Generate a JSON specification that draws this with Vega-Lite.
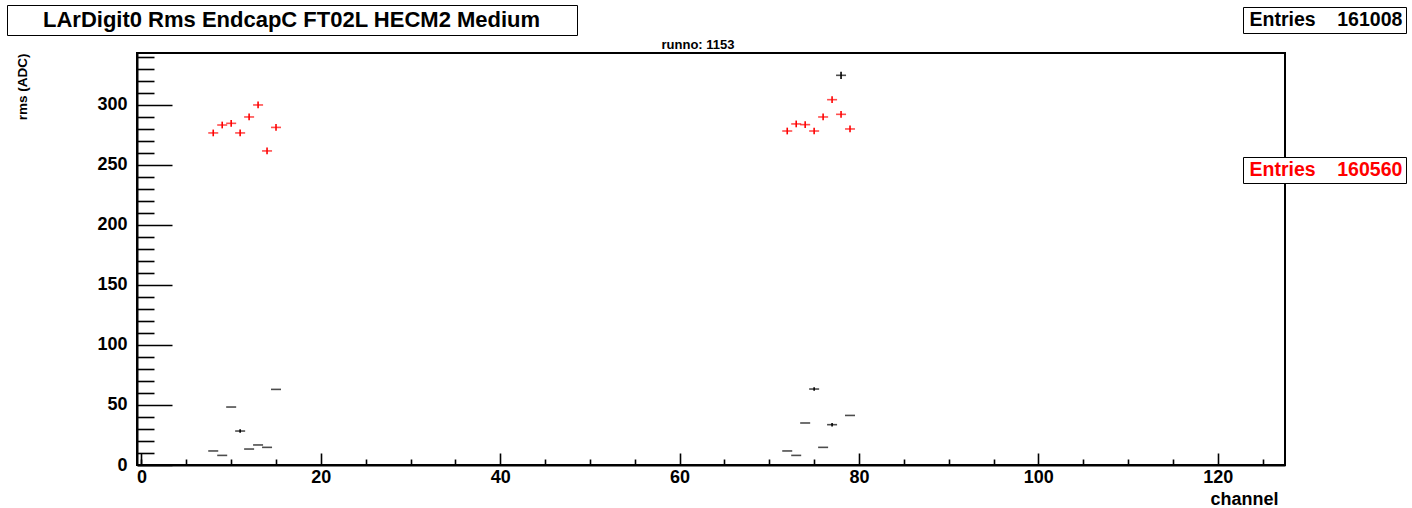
{
  "$schema": "https://vega.github.io/schema/vega-lite/v6.json",
  "width": 1148,
  "height": 412,
  "autosize": {"type": "none"},
  "padding": {"left": 137, "top": 53, "right": 127, "bottom": 43},
  "background": "white",
  "title": {"text": "runno: 1153", "fontSize": 13, "fontWeight": "bold", "font": "Liberation Sans", "anchor": "middle", "dx": -13, "dy": 50, "offset": 3, "color": "black"},
  "datasets": {
    "h1": [
      {"ch": 8, "rms": 11.7, "err": 0, "entries": 161008},
      {"ch": 9, "rms": 8.0, "err": 0, "entries": 161008},
      {"ch": 10, "rms": 48.3, "err": 0, "entries": 161008},
      {"ch": 11, "rms": 28.3, "err": 1.5, "entries": 161008},
      {"ch": 12, "rms": 13.3, "err": 0, "entries": 161008},
      {"ch": 13, "rms": 16.7, "err": 0, "entries": 161008},
      {"ch": 14, "rms": 14.7, "err": 0, "entries": 161008},
      {"ch": 15, "rms": 63.0, "err": 0, "entries": 161008},
      {"ch": 72, "rms": 11.7, "err": 0, "entries": 161008},
      {"ch": 73, "rms": 8.0, "err": 0, "entries": 161008},
      {"ch": 74, "rms": 35.0, "err": 0, "entries": 161008},
      {"ch": 75, "rms": 63.3, "err": 1.5, "entries": 161008},
      {"ch": 76, "rms": 14.7, "err": 0, "entries": 161008},
      {"ch": 77, "rms": 33.6, "err": 1.5, "entries": 161008},
      {"ch": 78, "rms": 324.7, "err": 3.0, "entries": 161008},
      {"ch": 79, "rms": 41.3, "err": 0, "entries": 161008}
    ],
    "h2": [
      {"ch": 8, "rms": 276.7, "err": 2.8, "entries": 160560},
      {"ch": 9, "rms": 283.3, "err": 2.8, "entries": 160560},
      {"ch": 10, "rms": 284.7, "err": 2.8, "entries": 160560},
      {"ch": 11, "rms": 276.7, "err": 2.8, "entries": 160560},
      {"ch": 12, "rms": 290.0, "err": 2.8, "entries": 160560},
      {"ch": 13, "rms": 300.0, "err": 2.8, "entries": 160560},
      {"ch": 14, "rms": 261.7, "err": 2.8, "entries": 160560},
      {"ch": 15, "rms": 281.3, "err": 2.8, "entries": 160560},
      {"ch": 72, "rms": 278.3, "err": 2.8, "entries": 160560},
      {"ch": 73, "rms": 284.2, "err": 2.8, "entries": 160560},
      {"ch": 74, "rms": 283.6, "err": 2.8, "entries": 160560},
      {"ch": 75, "rms": 278.3, "err": 2.8, "entries": 160560},
      {"ch": 76, "rms": 290.0, "err": 2.8, "entries": 160560},
      {"ch": 77, "rms": 304.4, "err": 2.8, "entries": 160560},
      {"ch": 78, "rms": 292.2, "err": 2.8, "entries": 160560},
      {"ch": 79, "rms": 280.0, "err": 2.8, "entries": 160560}
    ]
  },
  "layer": [
    {
      "data": {"name": "h1"},
      "encoding": {
        "x": {
          "field": "ch", "type": "quantitative",
          "scale": {"domain": [-0.5, 127.5], "nice": false, "zero": false},
          "axis": {
            "orient": "bottom",
            "title": "channel",
            "values": [0, 20, 40, 60, 80, 100, 120],
            "labelFontSize": 18, "labelPadding": 15, "labelFlush": false, "labelOverlap": false,
            "tickSize": -12,
            "titleAnchor": "end", "titleAlign": "right", "titleX": 1141, "titleY": 39, "titleBaseline": "alphabetic",
            "titleFontSize": 18
          }
        },
        "y": {
          "field": "rms", "type": "quantitative",
          "scale": {"domain": [0, 343.3], "nice": false, "zero": false},
          "axis": {
            "orient": "left",
            "title": "rms (ADC)",
            "values": [0, 50, 100, 150, 200, 250, 300],
            "labelFontSize": 18, "labelPadding": 45, "labelOverlap": false,
            "tickSize": -35,
            "titleAngle": -90, "titleAlign": "right", "titleX": -115, "titleY": 0, "titleBaseline": "middle",
            "titleFontSize": 13.5
          }
        },
        "color": {
          "field": "entries", "type": "nominal",
          "scale": {"domain": [161008], "range": ["black"]},
          "legend": {
            "orient": "none", "legendX": 1106, "legendY": -46, "title": null,
            "strokeColor": "black", "fillColor": "white", "padding": 3,
            "labelFontSize": 19.5, "labelFontWeight": "bold", "labelColor": "black", "labelLimit": 0,
            "symbolOpacity": 0, "symbolSize": 0, "symbolStrokeWidth": 0, "labelOffset": -16,
            "labelExpr": "'Entries\u00a0\u00a0\u00a0\u00a0' + datum.label"
          }
        }
      },
      "layer": [
        {
          "mark": {"type": "tick", "orient": "horizontal", "size": 10, "thickness": 1.6},
          "encoding": {
            "strokeDash": {
              "datum": "LArDigit0 Rms EndcapC FT02L HECM2 Medium", "type": "nominal",
              "scale": {"range": [[1, 0]]},
              "legend": {
                "orient": "none", "legendX": -130, "legendY": -48, "title": null,
                "strokeColor": "black", "fillColor": "white", "padding": 4,
                "labelFontSize": 22, "labelFontWeight": "bold", "labelColor": "black", "labelLimit": 0,
                "symbolOpacity": 0, "symbolSize": 0, "symbolStrokeWidth": 0, "labelOffset": 10,
                "labelExpr": "datum.label + '\u2800\u2800'"
              }
            }
          }
        },
        {
          "mark": {"type": "errorbar", "ticks": false, "rule": {"strokeWidth": 1.6}},
          "encoding": {"yError": {"field": "err"}}
        }
      ]
    },
    {
      "data": {"name": "h2"},
      "encoding": {
        "x": {
          "field": "ch", "type": "quantitative",
          "scale": {"domain": [-0.5, 127.5], "nice": false, "zero": false},
          "axis": {
            "orient": "bottom", "title": null, "labels": false, "domain": false,
            "values": [0,5,10,15,25,30,35,45,50,55,65,70,75,85,90,95,105,110,115,125],
            "tickSize": -6
          }
        },
        "y": {
          "field": "rms", "type": "quantitative",
          "scale": {"domain": [0, 343.3], "nice": false, "zero": false},
          "axis": {
            "orient": "left", "title": null, "labels": false, "domain": false,
            "values": [10,20,30,40,60,70,80,90,110,120,130,140,160,170,180,190,210,220,230,240,260,270,280,290,310,320,330,340],
            "tickSize": -17
          }
        },
        "color": {
          "field": "entries", "type": "nominal",
          "scale": {"domain": [160560], "range": ["red"]},
          "legend": {
            "orient": "none", "legendX": 1106, "legendY": 104, "title": null,
            "strokeColor": "black", "fillColor": "white", "padding": 3,
            "labelFontSize": 19.5, "labelFontWeight": "bold", "labelColor": "red", "labelLimit": 0,
            "symbolOpacity": 0, "symbolSize": 0, "symbolStrokeWidth": 0, "labelOffset": -16,
            "labelExpr": "'Entries\u00a0\u00a0\u00a0\u00a0' + datum.label"
          }
        }
      },
      "layer": [
        {"mark": {"type": "tick", "orient": "horizontal", "size": 10, "thickness": 1.6}},
        {
          "mark": {"type": "errorbar", "ticks": false, "rule": {"strokeWidth": 1.6}},
          "encoding": {"yError": {"field": "err"}}
        }
      ]
    }
  ],
  "resolve": {"scale": {"color": "independent"}, "axis": {"x": "independent", "y": "independent"}},
  "config": {
    "font": "Liberation Sans",
    "view": {"stroke": "black", "strokeWidth": 2},
    "axis": {
      "domainColor": "black", "domainWidth": 2, "tickColor": "black", "tickWidth": 1.6,
      "labelColor": "black", "labelFont": "Liberation Sans", "labelFontWeight": "bold",
      "titleColor": "black", "titleFont": "Liberation Sans", "titleFontWeight": "bold",
      "grid": false
    },
    "legend": {"labelFont": "Liberation Sans"}
  }
}
